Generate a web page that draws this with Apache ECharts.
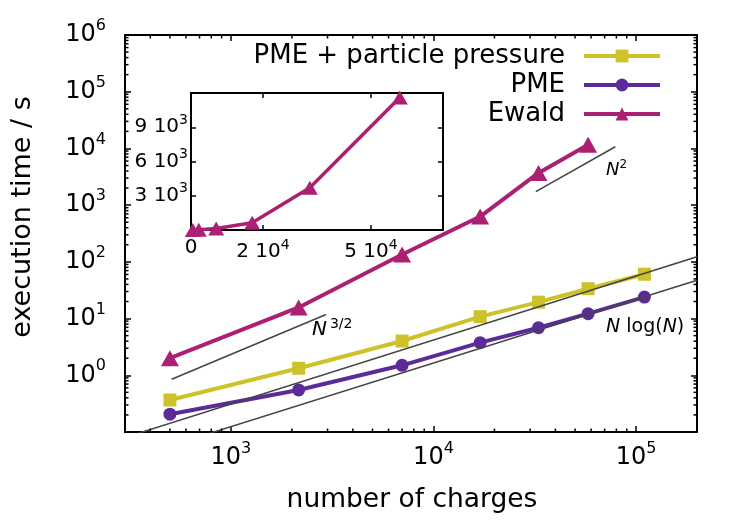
<!DOCTYPE html>
<html>
<head>
<meta charset="utf-8">
<script src="https://cdn.jsdelivr.net/npm/echarts@6/dist/echarts.min.js"></script>
<style>
html, body { margin: 0; padding: 0; background: #fff; }
#chart { width: 750px; height: 525px; }
</style>
</head>
<body>
<div id="chart"></div>
<script>
// measured data (execution time in s vs number of charges)
const charges = [500, 2160, 7000, 17000, 33000, 58000, 110000];
const ewaldCharges = [500, 2160, 7000, 17000, 33000, 58000];
const pmePressureTime = [0.367, 1.33, 4.02, 10.8, 19.5, 33.6, 60.5];
const pmeTime = [0.206, 0.551, 1.50, 3.76, 6.90, 12.2, 23.9];
const ewaldTime = [2.0, 15.7, 135, 630, 3700, 11600];

// scaling guide lines, end points
const guideN2 = [[32000, 1730], [79000, 10700]];
const guideN32 = [[510, 0.85], [2950, 11.8]];
const guideNlogNUpper = [[300, 0.080], [200000, 122.7]];
const guideNlogNLower = [[600, 0.070], [200000, 47.5]];

// inset tick values
const insetXTicks = [0, 20000, 50000];
const insetYTicks = [3000, 6000, 9000];

const X_MIN = 300, X_MAX = 200000, Y_MIN = 0.1, Y_MAX = 1e6;
const FONT = 'DejaVu Sans';
const C_YEL = '#cdc22a', C_PUR = '#5b2b9a', C_MAG = '#ab2072', C_GUIDE = '#444444';

const zip = (xs, ys) => xs.map((x, i) => [x, ys[i]]);

// minor ticks 2..9 for each decade
const minorX = [], minorY = [];
[100, 1000, 10000, 100000].forEach(d => {
    for (let k = 2; k <= 9; k++) if (d * k > X_MIN && d * k < X_MAX) minorX.push([d * k, Y_MIN]);
});
[0.1, 1, 10, 100, 1000, 10000, 100000].forEach(d => {
    for (let k = 2; k <= 9; k++) minorY.push([X_MIN, d * k]);
});

const powLabel = v => {
    const e = Math.log10(v);
    if (Math.abs(e - Math.round(e)) > 1e-6 || Math.round(e) < 0) return '';
    return '{b|10}{s|' + Math.round(e) + '}';
};
const sciLabel = v => {
    if (v === 0) return '{b|0}';
    const e = Math.floor(Math.log10(v) + 1e-9);
    const m = Math.round(v / Math.pow(10, e));
    return '{b|' + m + ' 10}{s|' + e + '}';
};

const bigRich = {
    b: { fontSize: 24, fontFamily: FONT, color: '#000' },
    s: { fontSize: 16, fontFamily: FONT, color: '#000', padding: [0, 0, 18, 0] }
};
const smallRich = {
    b: { fontSize: 20, fontFamily: FONT, color: '#000' },
    s: { fontSize: 14, fontFamily: FONT, color: '#000', padding: [0, 0, 14, 0] }
};

const axisLine = { show: true, onZero: false, lineStyle: { color: '#000', width: 2 } };
const tickMajor = { show: true, inside: true, length: 6, lineStyle: { color: '#000', width: 1.5 } };

const logX = (pos, withLabel) => ({
    type: 'log', logBase: 10, gridIndex: 0, position: pos, min: X_MIN, max: X_MAX,
    axisLine, axisTick: tickMajor, splitLine: { show: false },
    axisLabel: { show: withLabel, margin: 9, formatter: powLabel, rich: bigRich }
});
const logY = (pos, withLabel) => ({
    type: 'log', logBase: 10, gridIndex: 0, position: pos, min: Y_MIN, max: Y_MAX,
    axisLine, axisTick: tickMajor, splitLine: { show: false },
    axisLabel: { show: withLabel, margin: 19, formatter: powLabel, rich: bigRich }
});
const insetX = (pos, ticks, withLabel) => ({
    type: 'value', gridIndex: 1, position: pos, min: 0, max: 70000,
    axisLine, splitLine: { show: false },
    axisTick: Object.assign({}, tickMajor, { length: 5, customValues: ticks }),
    axisLabel: { show: withLabel, margin: 8, customValues: ticks, formatter: sciLabel, rich: smallRich }
});
const insetY = (pos, withLabel) => ({
    type: 'value', gridIndex: 1, position: pos, min: 0, max: 12000,
    axisLine, splitLine: { show: false },
    axisTick: Object.assign({}, tickMajor, { length: 5, customValues: insetYTicks }),
    axisLabel: { show: withLabel, margin: 3, customValues: insetYTicks, formatter: sciLabel, rich: smallRich }
});

const guide = data => ({
    type: 'line', xAxisIndex: 0, yAxisIndex: 0, data, symbol: 'none', silent: true, z: 4,
    lineStyle: { color: C_GUIDE, width: 1.5 }
});

// short inward minor ticks on both sides of the main frame
const minorTicks = (data, vertical) => ({
    type: 'custom', xAxisIndex: 0, yAxisIndex: 0, data, silent: true, clip: false, z: 5,
    renderItem: (params, api) => {
        const st = { stroke: '#000', lineWidth: 1.5 };
        if (vertical) {
            const a = api.coord([api.value(0), Y_MIN]);
            const b = api.coord([api.value(0), Y_MAX]);
            return { type: 'group', children: [
                { type: 'line', shape: { x1: a[0], y1: a[1], x2: a[0], y2: a[1] - 3.5 }, style: st },
                { type: 'line', shape: { x1: b[0], y1: b[1], x2: b[0], y2: b[1] + 3.5 }, style: st }
            ] };
        }
        const a = api.coord([X_MIN, api.value(1)]);
        const b = api.coord([X_MAX, api.value(1)]);
        return { type: 'group', children: [
            { type: 'line', shape: { x1: a[0], y1: a[1], x2: a[0] + 3.5, y2: a[1] }, style: st },
            { type: 'line', shape: { x1: b[0], y1: b[1], x2: b[0] - 3.5, y2: b[1] }, style: st }
        ] };
    }
});

const chart = echarts.init(document.getElementById('chart'), null, { renderer: 'canvas' });

chart.setOption({
    animation: false,
    backgroundColor: '#fff',
    textStyle: { fontFamily: FONT },
    grid: [
        { left: 125, right: 53, top: 35, bottom: 93, outerBoundsMode: 'none' },
        { left: 191, top: 93, width: 252, height: 137, show: true, backgroundColor: '#fff',
          borderWidth: 0, outerBoundsMode: 'none' }
    ],
    legend: {
        data: ['PME + particle pressure', 'PME', 'Ewald'],
        orient: 'vertical', align: 'right', right: 83, top: 38,
        itemWidth: 76, itemHeight: 16, itemGap: 3, selectedMode: false,
        lineStyle: { width: 4 },
        textStyle: { fontSize: 26, fontFamily: FONT, color: '#000', padding: [0, 14, 0, 0] }
    },
    xAxis: [
        logX('bottom', true), logX('top', false),
        insetX('bottom', insetXTicks, true), insetX('top', insetXTicks.slice(1), false)
    ],
    yAxis: [
        logY('left', true), logY('right', false),
        insetY('left', true), insetY('right', false)
    ],
    graphic: [
        { type: 'text', x: 412, y: 500, style: { text: 'number of charges', font: '26.5px "DejaVu Sans"',
          fill: '#000', align: 'center', verticalAlign: 'middle' } },
        { type: 'text', x: 23, y: 217, rotation: Math.PI / 2, style: { text: 'execution time / s',
          font: '27px "DejaVu Sans"', fill: '#000', align: 'center', verticalAlign: 'middle' } },
        { type: 'text', x: 606, y: 170, style: { text: '{n|N}{s|2}', align: 'left', verticalAlign: 'middle',
          rich: { n: { font: 'italic 18px "DejaVu Sans"', fill: '#000' },
                  s: { font: '12px "DejaVu Sans"', fill: '#000', padding: [0, 0, 10, 0] } } } },
        { type: 'text', x: 312, y: 330, style: { text: '{n|N}{s|3/2}', align: 'left', verticalAlign: 'middle',
          rich: { n: { font: 'italic 20px "DejaVu Sans"', fill: '#000' },
                  s: { font: '14px "DejaVu Sans"', fill: '#000', padding: [0, 0, 12, 3] } } } },
        { type: 'text', x: 606, y: 327, style: { text: '{n|N}{r| log(}{n|N}{r|)}', align: 'left', verticalAlign: 'middle',
          rich: { n: { font: 'italic 19px "DejaVu Sans"', fill: '#000' },
                  r: { font: '19px "DejaVu Sans"', fill: '#000' } } } }
    ],
    series: [
        { name: 'PME + particle pressure', type: 'line', xAxisIndex: 0, yAxisIndex: 0,
          data: zip(charges, pmePressureTime), symbol: 'rect', symbolSize: 13, z: 3,
          lineStyle: { color: C_YEL, width: 4 }, itemStyle: { color: C_YEL } },
        { name: 'PME', type: 'line', xAxisIndex: 0, yAxisIndex: 0,
          data: zip(charges, pmeTime), symbol: 'circle', symbolSize: 13, z: 3,
          lineStyle: { color: C_PUR, width: 4 }, itemStyle: { color: C_PUR } },
        { name: 'Ewald', type: 'line', xAxisIndex: 0, yAxisIndex: 0,
          data: zip(ewaldCharges, ewaldTime), symbol: 'triangle', symbolSize: [18, 16], z: 3,
          lineStyle: { color: C_MAG, width: 4 }, itemStyle: { color: C_MAG } },
        guide(guideN2), guide(guideN32), guide(guideNlogNUpper), guide(guideNlogNLower),
        minorTicks(minorX, true), minorTicks(minorY, false),
        { name: 'Ewald inset', type: 'line', xAxisIndex: 2, yAxisIndex: 2,
          data: zip(ewaldCharges, ewaldTime), symbol: 'triangle', symbolSize: [16, 14], z: 6,
          lineStyle: { color: C_MAG, width: 3.5 }, itemStyle: { color: C_MAG } }
    ]
});
</script>
</body>
</html>
